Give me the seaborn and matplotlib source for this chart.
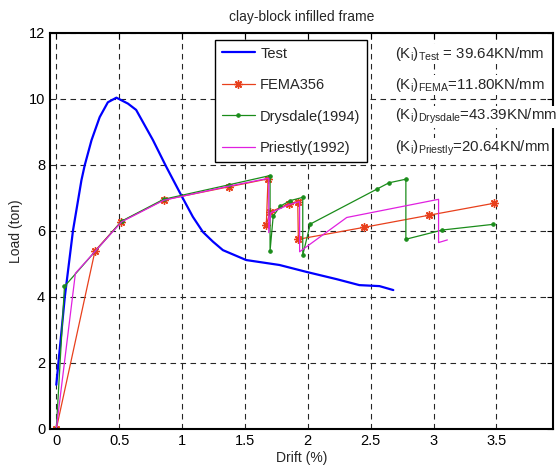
import matplotlib
matplotlib.use("Agg")
import matplotlib.pyplot as plt
import seaborn as sns
import pandas as pd

# ---- data ----
test_x = [0.0, 0.068, 0.133, 0.20, 0.226, 0.28, 0.345, 0.41, 0.478, 0.57, 0.635,
          0.768, 0.874, 0.994, 1.086, 1.166, 1.245, 1.325, 1.51, 1.775, 1.99, 2.23,
          2.41, 2.57, 2.68]
test_y = [1.34, 4.01, 6.02, 7.54, 7.99, 8.75, 9.45, 9.90, 10.04, 9.86, 9.67,
          8.76, 7.95, 7.08, 6.43, 5.97, 5.68, 5.42, 5.12, 4.97, 4.76, 4.54,
          4.36, 4.33, 4.21]

fema_x = [0.0, 0.308, 0.515, 0.853, 1.373, 1.684, 1.67, 1.70, 1.85, 1.92, 1.925, 2.446, 2.967, 3.48]
fema_y = [0.0, 5.40, 6.28, 6.94, 7.34, 7.58, 6.18, 6.57, 6.83, 6.89, 5.75, 6.11, 6.48, 6.84]

drys_x = [0.0, 0.065, 0.52, 0.853, 1.373, 1.70, 1.70, 1.725, 1.78, 1.86, 1.96, 1.96, 2.02,
          2.55, 2.645, 2.78, 2.78, 3.07, 3.47]
drys_y = [0.0, 4.32, 6.30, 6.96, 7.40, 7.68, 5.40, 6.45, 6.75, 6.92, 7.02, 5.27, 6.21,
          7.27, 7.46, 7.57, 5.75, 6.03, 6.20]

pries_x = [0.0, 0.152, 0.52, 0.853, 1.373, 1.69, 1.69, 1.705, 1.85, 1.935, 1.935, 2.31,
           3.04, 3.04, 3.11]
pries_y = [0.0, 4.72, 6.28, 6.93, 7.36, 7.60, 5.95, 6.55, 6.80, 6.89, 5.37, 6.41,
           6.96, 5.65, 5.73]

labels = ["Test", "FEMA356", "Drysdale(1994)", "Priestly(1992)"]
k_names = ["Test", "FEMA", "Drysdale", "Priestly"]
k_values = ["39.64", "11.80", "43.39", "20.64"]

x_ticks = [0, 0.5, 1, 1.5, 2, 2.5, 3, 3.5]
x_tick_labels = ["0", "0.5", "1", "1.5", "2", "2.5", "3", "3.5"]
y_ticks = [0, 2, 4, 6, 8, 10, 12]

# ---- style ----
sns.set_style("white")
plt.rcParams['font.family'] = ['Liberation Sans', 'DejaVu Sans']
plt.rcParams['mathtext.default'] = 'regular'

fig = plt.figure(figsize=(5.58, 4.70), dpi=100)
ax = fig.add_axes([50/558, 41/470, 503/558, 396/470])

ax.set_xlim(-0.05, 3.95)
ax.set_ylim(0, 12)

red = '#e8401c'
green = '#1a8c1a'
magenta = '#e020e0'

sns.lineplot(x=test_x, y=test_y, sort=False, estimator=None, ax=ax,
             color=(0, 0, 1), lw=1.6, label=labels[0])
sns.lineplot(x=fema_x, y=fema_y, sort=False, estimator=None, ax=ax,
             color=red, lw=0.9, marker=(8, 2, 0), markersize=6, markeredgewidth=1.0,
             markeredgecolor=red, markerfacecolor=red, label=labels[1])
sns.lineplot(x=drys_x, y=drys_y, sort=False, estimator=None, ax=ax,
             color=green, lw=0.9, marker='o', markersize=2.5,
             markeredgecolor=green, markerfacecolor=green, label=labels[2])
sns.lineplot(x=pries_x, y=pries_y, sort=False, estimator=None, ax=ax,
             color=magenta, lw=0.9, label=labels[3])

ax.set_xticks(x_ticks)
ax.set_xticklabels(x_tick_labels)
ax.set_yticks(y_ticks)
ax.tick_params(direction='in', top=True, right=True, length=4, width=0.8,
               labelsize=10.5, colors='black')
ax.grid(True, color='0.15', linestyle=(0, (5, 4)), linewidth=0.8)
for s in ax.spines.values():
    s.set_color('black')
    s.set_linewidth(1.5)

ax.set_xlabel("Drift (%)", fontsize=10, labelpad=2)
ax.set_ylabel("Load (ton)", fontsize=10, labelpad=4)
ax.set_title("clay-block infilled frame", fontsize=10, pad=9)

leg = ax.legend(loc='upper left', bbox_to_anchor=((215-50)/503, 1 - 7/396),
                borderaxespad=0, fontsize=10.5,
                frameon=True, fancybox=False, edgecolor='black', framealpha=1,
                handlelength=2.3, labelspacing=1.2, borderpad=0.45, handletextpad=0.35)
leg.get_frame().set_linewidth(1.0)

ys = [58, 89, 120, 152]
for name, val, yp in zip(k_names, k_values, ys):
    sep = " = " if name == "Test" else "="
    txt = r"(K$_{i}$)$_{%s}$%s%sKN/mm" % (name, sep, val)
    fig.text(395/558, 1 - yp/470, txt, fontsize=10.8, ha='left', va='baseline',
             bbox=dict(facecolor='white', edgecolor='none', pad=1))

fig.savefig("out.png", dpi=100)
